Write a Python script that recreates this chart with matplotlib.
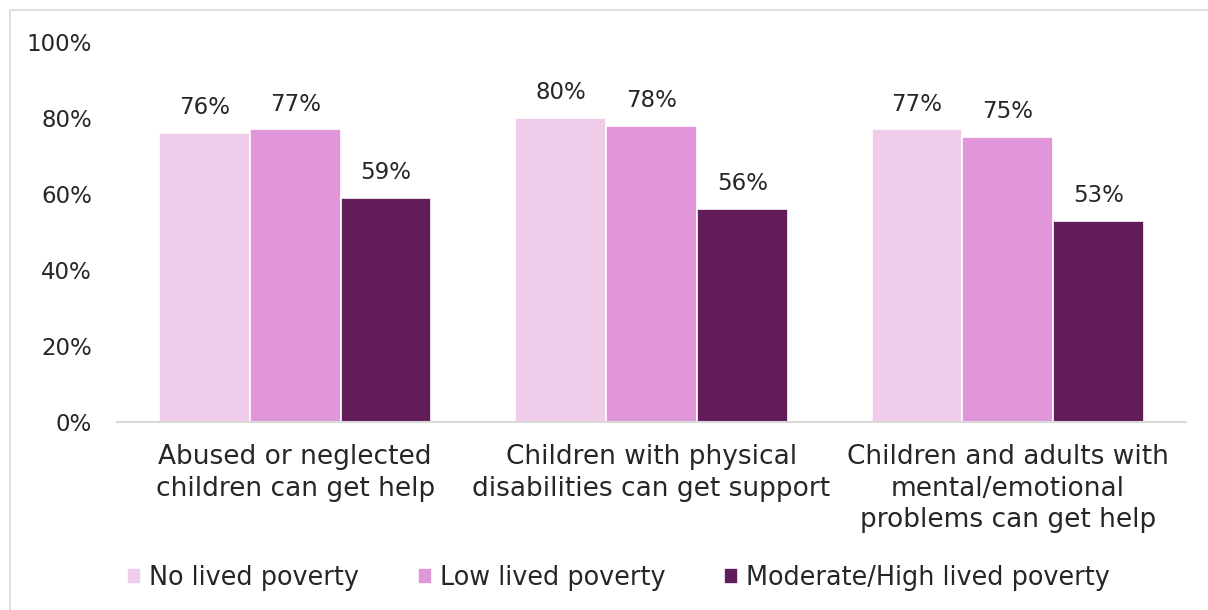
import matplotlib.pyplot as plt
from matplotlib.patches import Rectangle
import numpy as np

categories = [
    "Abused or neglected\nchildren can get help",
    "Children with physical\ndisabilities can get support",
    "Children and adults with\nmental/emotional\nproblems can get help",
]
series_names = ["No lived poverty", "Low lived poverty", "Moderate/High lived poverty"]
no_poverty = [76, 80, 77]
low_poverty = [77, 78, 75]
mod_high_poverty = [59, 56, 53]
colors = ["#F0CCEB", "#E096D8", "#621C5A"]

plt.rcParams['font.family'] = ['DejaVu Sans']
txt = "#262626"
fs = 16.5

fig = plt.figure(figsize=(12.08, 6.10), dpi=100)
ax = fig.add_axes([117 / 1208, 188 / 610, 1069 / 1208, 380 / 610])

# light frame around the whole chart
fig.patches.append(Rectangle((10 / 1208, -0.1), 1.2, (600 / 610) + 0.1,
                             transform=fig.transFigure, fill=False,
                             edgecolor="#D9D9D9", linewidth=1.2))

x = np.arange(len(categories))
width = 0.255
for i, (vals, name, c) in enumerate(zip([no_poverty, low_poverty, mod_high_poverty],
                                         series_names, colors)):
    bars = ax.bar(x + (i - 1) * width, vals, width, color=c, edgecolor="white",
                  linewidth=1.2, label=name)
    for b, v in zip(bars, vals):
        ax.annotate(f"{v}%", (b.get_x() + b.get_width() / 2, v),
                    xytext=(0, 10), textcoords="offset points",
                    ha="center", va="bottom", fontsize=fs, color=txt)

ax.set_xlim(-0.5, 2.5)
ax.set_ylim(0, 100)
ax.set_yticks([0, 20, 40, 60, 80, 100])
ax.set_yticklabels([f"{t}%" for t in range(0, 101, 20)], fontsize=fs, color=txt)
ax.set_xticks(x)
ax.set_xticklabels(categories, fontsize=19, color=txt, linespacing=1.28,
                   va="top")
ax.tick_params(axis="both", length=0)
ax.tick_params(axis="x", pad=16)
ax.tick_params(axis="y", pad=18)
for s in ["top", "right", "left"]:
    ax.spines[s].set_visible(False)
ax.spines["bottom"].set_color("#D9D9D9")
ax.spines["bottom"].set_linewidth(1.5)

fig.legend(loc="center", bbox_to_anchor=(0.512, 32 / 610), ncol=3, frameon=False,
           fontsize=18.4, handlelength=0.55, handleheight=0.55, handletextpad=0.3,
           columnspacing=2.3, labelcolor=txt)

fig.savefig("out.png", dpi=100)
